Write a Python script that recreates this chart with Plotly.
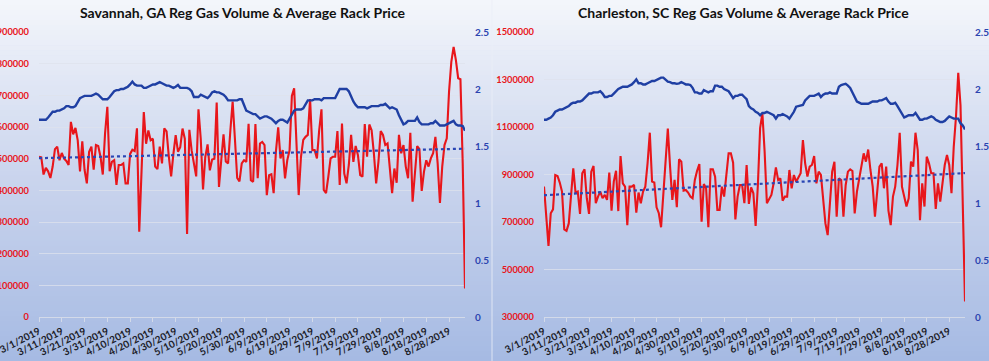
import numpy as np
import pandas as pd
import plotly.graph_objects as go

START = "2019-03-01"

# Savannah, GA daily regular gas volume (thousand gallons)
sav_volume_k = [506, 504, 450, 471, 460, 439, 475, 530, 538, 495, 518, 500, 493, 480, 616, 577, 597, 558, 460, 555,
                465, 422, 522, 538, 465, 543, 540, 506, 450, 580, 664, 460, 490, 495, 417, 480, 480, 485, 422, 422,
                515, 528, 524, 596, 269, 465, 647, 547, 589, 558, 563, 475, 467, 538, 485, 596, 586, 506, 444, 515,
                574, 522, 536, 595, 563, 262, 591, 526, 485, 444, 656, 563, 403, 506, 545, 463, 497, 500, 677, 411,
                495, 577, 491, 485, 589, 680, 563, 439, 428, 485, 495, 490, 610,
                432, 427, 609, 438, 548, 553, 543, 385, 448, 451, 391, 522, 599, 501, 527, 438, 496, 527, 698, 722,
                548, 385, 506, 559, 569, 575, 688, 527, 527, 501, 590, 656, 401, 391, 443, 501, 506, 506, 587, 417,
                611, 453, 422, 480, 575, 490, 540, 511, 448, 443, 609, 506, 608, 590, 517, 422, 490, 587, 575, 543,
                548, 459, 391, 469, 424, 575, 517, 543, 475, 438, 582, 364, 464, 540, 530, 398, 459, 495, 475, 501,
                517, 569, 485, 360, 475, 543, 564, 712, 806, 853, 811, 754, 751, 485, 90]

# Savannah, GA average rack price ($/gal)
sav_price = [1.73, 1.73, 1.73, 1.73, 1.75, 1.78, 1.80, 1.80, 1.81, 1.81, 1.82, 1.83, 1.85, 1.85, 1.84, 1.84, 1.85, 1.88,
             1.92, 1.93, 1.94, 1.94, 1.94, 1.94, 1.95, 1.96, 1.95, 1.93, 1.91, 1.91, 1.91, 1.93, 1.96, 1.98, 1.99, 1.99,
             2.00, 2.00, 2.01, 2.02, 2.04, 2.065, 2.04, 2.03, 2.03, 2.03, 2.01, 2.01, 2.02, 2.03, 2.04, 2.04, 2.05, 2.06,
             2.05, 2.04, 2.03, 2.03, 2.02, 2.01, 2.02, 2.035, 2.01, 2.01, 2.01, 2.01, 2.00, 1.98, 1.93, 1.93, 1.93, 1.95,
             1.94, 1.93, 1.92, 1.94, 1.97, 1.98, 1.97, 1.97, 1.96, 1.95, 1.93, 1.90, 1.90, 1.90, 1.90, 1.90, 1.91, 1.91,
             1.86, 1.81, 1.80, 1.79, 1.78, 1.78, 1.76, 1.74, 1.75, 1.76, 1.76, 1.75, 1.74, 1.72, 1.70, 1.72, 1.73, 1.73,
             1.72, 1.705, 1.74, 1.77, 1.81, 1.82, 1.82, 1.82, 1.83, 1.86, 1.90, 1.90, 1.90, 1.91, 1.91, 1.91, 1.90, 1.92,
             1.92, 1.92, 1.92, 1.92, 1.92, 1.96, 2.00, 2.00, 2.00, 2.00, 1.98, 1.93, 1.89, 1.86, 1.84, 1.84, 1.84, 1.84,
             1.83, 1.84, 1.85, 1.85, 1.85, 1.85, 1.86, 1.86, 1.87, 1.85, 1.83, 1.84, 1.83, 1.82, 1.77, 1.73, 1.69, 1.70,
             1.72, 1.72, 1.72, 1.72, 1.75, 1.71, 1.69, 1.69, 1.69, 1.69, 1.70, 1.70, 1.72, 1.70, 1.68, 1.68, 1.68, 1.69,
             1.70, 1.71, 1.72, 1.69, 1.68, 1.68, 1.675, 1.634]

# Charleston, SC daily regular gas volume (thousand gallons)
chs_volume_k = [849, 722, 599, 737, 753, 898, 894, 866, 828, 669, 663, 694, 821, 926, 824, 828, 734, 905, 922, 800,
                734, 912, 936, 779, 807, 828, 800, 814, 793, 908, 748, 870, 916, 746, 978, 863, 849, 687, 849, 849,
                856, 739, 824, 779, 828, 849, 947, 1076, 870, 866, 762, 737, 678, 821, 975, 1093, 933, 793, 877, 762,
                964, 954, 832, 835, 824, 807, 800, 877, 916, 944, 701, 860, 842, 678, 922, 922, 891, 751, 751, 849,
                807, 916, 989, 989, 950, 711, 807, 856, 856, 779, 940, 776, 846, 821, 683,
                856, 1095, 1158, 996, 779, 796, 814, 863, 930, 877, 884, 790, 807, 807, 919, 842, 898, 870, 891,
                905, 1045, 947, 891, 933, 940, 978, 863, 912, 898, 786, 694, 645, 768, 912, 954, 722, 884, 877, 722,
                856, 912, 922, 915, 736, 828, 877, 933, 989, 954, 1005, 919, 849, 722, 835, 933, 947, 842, 933, 748,
                687, 807, 849, 940, 1076, 849, 807, 765, 800, 954, 933, 1076, 1003, 708, 863, 765, 975,
                947, 905, 905, 755, 863, 786, 863, 940, 982, 940, 821, 1017, 1143, 1328, 1191, 835, 365]

# Charleston, SC average rack price ($/gal)
chs_price = [1.73, 1.73, 1.74, 1.75, 1.77, 1.80, 1.81, 1.82, 1.82, 1.83, 1.84, 1.85, 1.87, 1.88, 1.88, 1.89, 1.89, 1.90,
             1.92, 1.94, 1.96, 1.96, 1.97, 1.97, 1.97, 1.98, 1.96, 1.93, 1.93, 1.94, 1.94, 1.96, 1.98, 2.00, 2.01, 2.02,
             2.02, 2.02, 2.03, 2.04, 2.06, 2.085, 2.05, 2.05, 2.04, 2.04, 2.05, 2.06, 2.07, 2.07, 2.08, 2.09, 2.10, 2.10,
             2.08, 2.065, 2.06, 2.05, 2.05, 2.045, 2.05, 2.06, 2.05, 2.04, 2.04, 2.035, 2.01, 1.97, 1.97, 1.96, 1.96,
             1.99, 1.98, 1.97, 1.98, 1.98, 2.03, 2.03, 2.02, 2.02, 2.00, 1.99, 1.98, 1.95, 1.92, 1.94, 1.94, 1.95, 1.95,
             1.93, 1.91, 1.85, 1.83, 1.82, 1.80, 1.79, 1.77, 1.79, 1.79, 1.80, 1.79, 1.78, 1.77, 1.74, 1.77, 1.77, 1.78,
             1.77, 1.76, 1.74, 1.77, 1.80, 1.845, 1.85, 1.85, 1.86, 1.90, 1.92, 1.94, 1.94, 1.94, 1.95, 1.96, 1.93, 1.95,
             1.96, 1.96, 1.97, 1.96, 1.96, 1.96, 2.02, 2.035, 2.04, 2.045, 2.03, 2.01, 1.97, 1.93, 1.89, 1.88, 1.87,
             1.87, 1.87, 1.87, 1.88, 1.89, 1.89, 1.89, 1.90, 1.90, 1.91, 1.92, 1.89, 1.87, 1.87, 1.88, 1.85, 1.82, 1.78,
             1.75, 1.76, 1.77, 1.77, 1.77, 1.79, 1.76, 1.73, 1.73, 1.74, 1.74, 1.75, 1.76, 1.75, 1.73, 1.72, 1.71, 1.71,
             1.72, 1.74, 1.76, 1.75, 1.74, 1.74, 1.74, 1.70, 1.68, 1.645]

titles = ["Savannah, GA Reg Gas Volume & Average Rack Price",
          "Charleston, SC Reg Gas Volume & Average Rack Price"]

W, H = 989, 361
RED = "#e8161b"
BLUE = "#1f3fa3"
TREND = "#2a46b4"
FONT = "Lato"
GRID = "rgba(222,226,236,0.75)"


def px_x(p):
    return p / W


def px_y(p):
    return 1 - p / H


fig = go.Figure()

panels = [
    dict(vol=sav_volume_k, price=sav_price, xs="x", yv="y", yp="y2", dom=(39, 465),
         vrange=[0, 900000], vdtick=100000, title=titles[0], tx=243),
    dict(vol=chs_volume_k, price=chs_price, xs="x2", yv="y3", yp="y4", dom=(544, 965),
         vrange=[300000, 1500000], vdtick=200000, title=titles[1], tx=743),
]

for i, p in enumerate(panels):
    vol = np.array(p["vol"], dtype=float) * 1000
    dates_v = pd.date_range(START, periods=len(vol), freq="D")
    dates_p = pd.date_range(START, periods=len(p["price"]), freq="D")
    t = np.arange(len(vol))
    k, b = np.polyfit(t, vol, 1)
    trend = k * t + b

    fig.add_trace(go.Scatter(x=dates_v, y=vol, xaxis=p["xs"], yaxis=p["yv"], mode="lines",
                             line=dict(color=RED, width=2.1), showlegend=False, hoverinfo="skip"))
    fig.add_trace(go.Scatter(x=dates_v, y=trend, xaxis=p["xs"], yaxis=p["yv"], mode="lines",
                             line=dict(color=TREND, width=2.2, dash="dot"), showlegend=False, hoverinfo="skip"))
    fig.add_trace(go.Scatter(x=dates_p, y=p["price"], xaxis=p["xs"], yaxis=p["yp"], mode="lines",
                             line=dict(color=BLUE, width=2.4), showlegend=False, hoverinfo="skip"))

    xname = "xaxis" if i == 0 else "xaxis2"
    yvname = "yaxis" if i == 0 else "yaxis3"
    ypname = "yaxis2" if i == 0 else "yaxis4"
    dom = [px_x(p["dom"][0]), px_x(p["dom"][1])]
    ydom = [px_y(317), px_y(32)]
    fig.layout[xname] = dict(
        domain=dom, anchor=p["yv"], type="date", automargin=False, ticklabeloverflow="allow",
        range=[dates_v[0], dates_v[-1]],
        tick0=START, dtick=10 * 86400000, tickformat="%-m/%-d/%Y",
        tickangle=-27, tickfont=dict(family=FONT, size=10, color="#1c1c28", weight="bold"),
        ticks="outside", ticklen=4, tickcolor="#d3dae9", showgrid=False,
        showline=True, linecolor="#d3dae9", linewidth=1, zeroline=False,
    )
    fig.layout[yvname] = dict(
        domain=ydom, anchor=p["xs"], range=p["vrange"], dtick=p["vdtick"], tick0=p["vrange"][0],
        tickformat="d", tickfont=dict(family=FONT, size=9.3, color=RED, weight="bold"), automargin=False,
        ticklabeloverflow="allow",
        showgrid=True, gridcolor=GRID, gridwidth=1, zeroline=False, ticks="",
        ticklabelstandoff=9, showline=False,
    )
    fig.layout[ypname] = dict(
        domain=ydom, anchor=p["xs"], overlaying=p["yv"], side="right", range=[0, 2.5], dtick=0.5,
        tickfont=dict(family=FONT, size=10, color="#2b44b0", weight="bold"), automargin=False,
        ticklabeloverflow="allow",
        showgrid=False, zeroline=False, ticks="", ticklabelstandoff=9, showline=False,
    )
    fig.add_annotation(text="<b>" + p["title"] + "</b>", xref="paper", yref="paper",
                       x=px_x(p["tx"]), y=px_y(13), xanchor="center", yanchor="middle",
                       showarrow=False, font=dict(family=FONT, size=14, color="#111111"))

# vertical gradient background (light at top, blue at bottom)
stops = [(0.0, (244, 246, 251)), (0.5, (201, 212, 237)), (1.0, (166, 186, 227))]


def grad(f):
    for (f0, c0), (f1, c1) in zip(stops[:-1], stops[1:]):
        if f0 <= f <= f1:
            u = (f - f0) / (f1 - f0)
            return tuple(round(a + (bb - a) * u) for a, bb in zip(c0, c1))
    return stops[-1][1]


shapes = []
n = 72
for j in range(n):
    f = (j + 0.5) / n
    c = grad(f)
    shapes.append(dict(type="rect", xref="paper", yref="paper", x0=0, x1=1,
                       y0=1 - (j + 1) / n - 0.002, y1=1 - j / n,
                       fillcolor="rgb(%d,%d,%d)" % c, line=dict(width=0), layer="below"))
shapes.append(dict(type="line", xref="paper", yref="paper", x0=px_x(492), x1=px_x(492), y0=0, y1=1,
                   line=dict(color="rgba(235,239,247,0.8)", width=1), layer="below"))

fig.update_layout(
    width=W, height=H, margin=dict(l=0, r=0, t=0, b=0),
    paper_bgcolor="rgb(205,215,238)", plot_bgcolor="rgba(0,0,0,0)",
    shapes=shapes, showlegend=False, hovermode=False,
)

fig.write_html("out.html", config={"displayModeBar": False, "staticPlot": True},
               post_script="document.body.style.margin='0';document.body.style.overflow='hidden';")
